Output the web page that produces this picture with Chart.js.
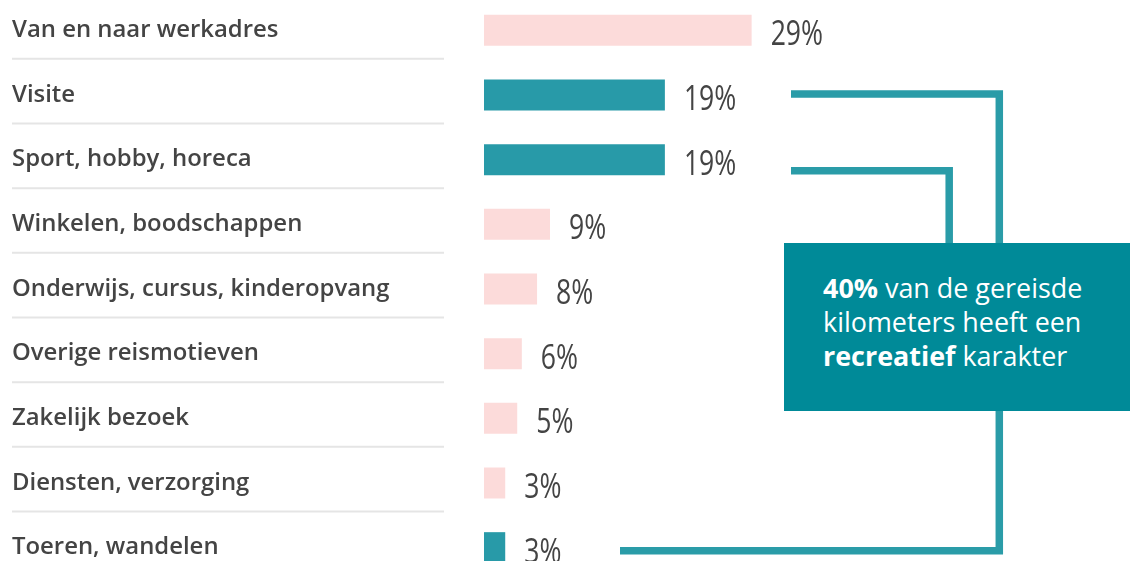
<!DOCTYPE html>
<html>
<head>
<meta charset="utf-8">
<script src="https://cdn.jsdelivr.net/npm/chart.js@4.4.1/dist/chart.umd.min.js"></script>
<style>
  html, body { margin: 0; padding: 0; background: #ffffff; overflow: hidden; }
  body { width: 1130px; height: 561px; position: relative; }
  #wrap { position: absolute; left: 0; top: -2px; width: 1130px; height: 582px; }
  #callout {
    position: absolute; left: 784px; top: 243px; width: 346px; height: 168px;
    box-sizing: border-box; padding: 27.5px 0 0 39px;
    background: #008a98; color: #ffffff; white-space: nowrap;
    font-family: "Open Sans", sans-serif; font-size: 26.9px; line-height: 34.3px; font-weight: 400;
  }
  #callout b { font-weight: 700; }
</style>
</head>
<body>
<div id="wrap"><canvas id="c"></canvas></div>
<div id="callout"><b>40%</b> van de gereisde<br>kilometers heeft een<br><b>recreatief</b> karakter</div>
<script>
// Categories (reismotieven)
const categories = [
  "Van en naar werkadres",
  "Visite",
  "Sport, hobby, horeca",
  "Winkelen, boodschappen",
  "Onderwijs, cursus, kinderopvang",
  "Overige reismotieven",
  "Zakelijk bezoek",
  "Diensten, verzorging",
  "Toeren, wandelen"
];
// Printed share of travelled kilometres (%)
const shareLabels = [29, 19, 19, 9, 8, 6, 5, 3, 3];
// Bar lengths as drawn in the reference (same % units)
const drawnLengths = [29, 19.6, 19.6, 7.15, 5.75, 4.1, 3.6, 2.3, 2.3];
// Recreational motives (highlighted)
const recreatief = [false, true, true, false, false, false, false, false, true];

const PINK = "#fcdbda";
const TEAL = "#289aa8";
const LINE = "#2a9ca8";

const separatorPlugin = {
  id: "separators",
  beforeDatasetsDraw(chart) {
    const y = chart.scales.y;
    const ctx = chart.ctx;
    ctx.save();
    ctx.strokeStyle = "#e5e5e5";
    ctx.lineWidth = 2;
    for (let i = 0; i < categories.length - 1; i++) {
      const py = y.getPixelForValue(i) + 28.5;
      ctx.beginPath();
      ctx.moveTo(12, py);
      ctx.lineTo(444, py);
      ctx.stroke();
    }
    ctx.restore();
  }
};

const valueLabelPlugin = {
  id: "valueLabels",
  afterDatasetsDraw(chart) {
    const ctx = chart.ctx;
    const meta = chart.getDatasetMeta(0);
    meta.data.forEach((bar, i) => {
      ctx.save();
      ctx.fillStyle = "#444444";
      ctx.font = "400 35px 'Open Sans', sans-serif";
      ctx.textAlign = "left";
      ctx.textBaseline = "middle";
      ctx.translate(bar.x + 19, bar.y + 5);
      ctx.scale(0.76, 1);
      ctx.fillText(shareLabels[i] + "%", 0, 0);
      ctx.restore();
    });
  }
};

const connectorPlugin = {
  id: "connectors",
  afterDatasetsDraw(chart) {
    const y = chart.scales.y;
    const ctx = chart.ctx;
    const yRow = (name, dy) => y.getPixelForValue(categories.indexOf(name)) + dy;
    ctx.save();
    ctx.strokeStyle = LINE;
    ctx.lineWidth = 7.5;
    ctx.lineCap = "butt";
    ctx.lineJoin = "miter";
    // Visite -> callout, continuing down to Toeren, wandelen
    const y1 = yRow("Visite", -1);
    const y9 = yRow("Toeren, wandelen", 3);
    ctx.beginPath();
    ctx.moveTo(791, y1);
    ctx.lineTo(999.3, y1);
    ctx.lineTo(999.3, y9);
    ctx.lineTo(620, y9);
    ctx.stroke();
    // Sport, hobby, horeca -> callout
    const y2 = yRow("Sport, hobby, horeca", 11);
    ctx.beginPath();
    ctx.moveTo(791, y2);
    ctx.lineTo(949.2, y2);
    ctx.lineTo(949.2, 260);
    ctx.stroke();
    ctx.restore();
  }
};

new Chart(document.getElementById("c"), {
  type: "bar",
  data: {
    labels: categories,
    datasets: [{
      data: drawnLengths,
      backgroundColor: recreatief.map(r => r ? TEAL : PINK),
      borderWidth: 0,
      barPercentage: 1,
      categoryPercentage: 31 / 64.67
    }]
  },
  options: {
    indexAxis: "y",
    responsive: true,
    maintainAspectRatio: false,
    animation: false,
    layout: { padding: { left: 12, right: 0, top: 0, bottom: 0 } },
    plugins: { legend: { display: false }, tooltip: { enabled: false } },
    scales: {
      x: { display: false, min: 0, max: 70 },
      y: {
        position: "left",
        grid: { display: false },
        border: { display: false },
        ticks: {
          autoSkip: false,
          crossAlign: "far",
          padding: 0,
          color: "#444444",
          font: { family: "'Open Sans', sans-serif", size: 23.9, weight: 600, lineHeight: 0.2 }
        },
        afterFit(scale) {
          scale.width = 472;
          scale.paddingTop = 0;
          scale.paddingBottom = 0;
        }
      }
    }
  },
  plugins: [separatorPlugin, connectorPlugin, valueLabelPlugin]
});
</script>
</body>
</html>
